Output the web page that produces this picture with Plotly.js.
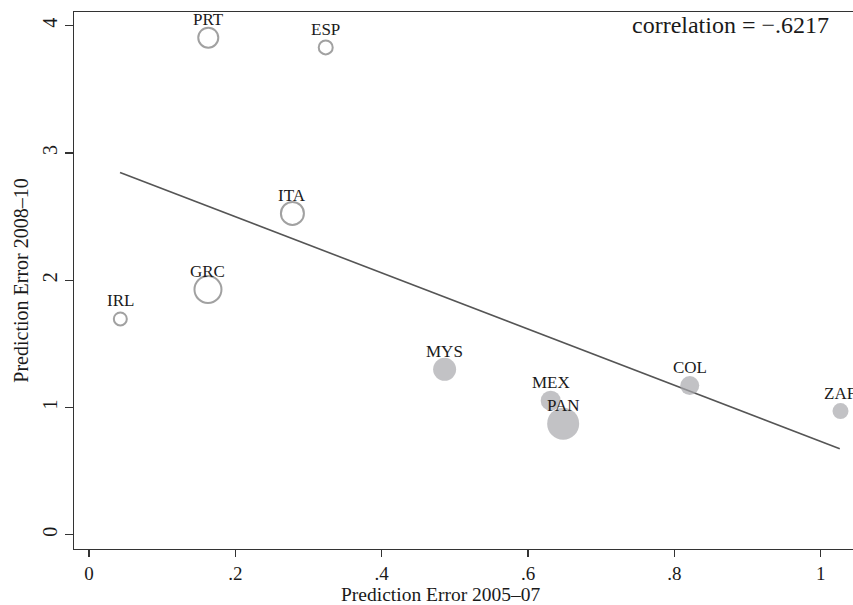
<!DOCTYPE html>
<html>
<head>
<meta charset="utf-8">
<script src="https://cdn.plot.ly/plotly-3.0.1.min.js"></script>
<style>html,body{margin:0;padding:0;background:#fff;}#chart{width:853px;height:605px;}</style>
</head>
<body>
<div id="chart"></div>
<script>
// Advanced economies (hollow markers)
const advCountries = ["PRT", "ESP", "ITA", "GRC", "IRL"];
const advErr0507 = [0.163, 0.3235, 0.278, 0.1626, 0.0428];
const advErr0810 = [3.906, 3.83, 2.525, 1.927, 1.696];
const advWeight = [20, 14, 23, 27, 13];

// Emerging economies (filled markers)
const emgCountries = ["MYS", "MEX", "PAN", "COL", "ZAF"];
const emgErr0507 = [0.486, 0.631, 0.648, 0.821, 1.027];
const emgErr0810 = [1.30, 1.054, 0.873, 1.172, 0.972];
const emgWeight = [23, 20, 32, 19, 16];

// Fitted line endpoints
const fitX = [0.0424, 1.026];
const fitY = [2.847, 0.676];

const correlationText = "correlation = \u2212.6217";
const xTitle = "Prediction Error 2005\u201307";
const yTitle = "Prediction Error 2008\u201310";
const xTickVals = [0, 0.2, 0.4, 0.6, 0.8, 1];
const xTickText = ["0", ".2", ".4", ".6", ".8", "1"];
const yTickVals = [0, 1, 2, 3, 4];

const serif = "Liberation Serif, Times New Roman, serif";

const traces = [
  {
    x: fitX, y: fitY, mode: "lines", type: "scatter",
    line: {color: "#555555", width: 1.6},
    hoverinfo: "skip", showlegend: false
  },
  {
    x: advErr0507, y: advErr0810, mode: "markers", type: "scatter",
    marker: {size: advWeight, color: "rgba(255,255,255,0)", line: {color: "#7a7a7a", width: 2}},
    showlegend: false, cliponaxis: false
  },
  {
    x: emgErr0507, y: emgErr0810, mode: "markers", type: "scatter",
    marker: {size: emgWeight, color: "#a8a8ac", line: {width: 0}},
    showlegend: false, cliponaxis: false
  }
];

const annotations = [];
function addLabels(xs, ys, names) {
  for (let i = 0; i < names.length; i++) {
    annotations.push({
      x: xs[i], y: ys[i], xref: "x", yref: "y", text: names[i],
      showarrow: false, yshift: 18, xanchor: "center", yanchor: "middle",
      font: {family: serif, size: 17, color: "#1a1a1a"}
    });
  }
}
addLabels(advErr0507, advErr0810, advCountries);
addLabels(emgErr0507, emgErr0810, emgCountries);
annotations.push({
  xref: "paper", yref: "paper", x: 0.9717, y: 0.975, xanchor: "right", yanchor: "middle",
  text: correlationText, showarrow: false,
  font: {family: serif, size: 24, color: "#1a1a1a"}
});
annotations.push({
  xref: "paper", yref: "paper", x: 0.471, y: -0.1053, xanchor: "center", yanchor: "bottom",
  text: xTitle, showarrow: false, borderpad: 0,
  font: {family: serif, size: 19.5, color: "#1a1a1a"}
});

const layout = {
  width: 853, height: 605,
  margin: {l: 74, r: 0, t: 12, b: 56},
  paper_bgcolor: "#ffffff", plot_bgcolor: "#ffffff",
  font: {family: serif, size: 20, color: "#1a1a1a"},
  xaxis: {
    range: [-0.0205, 1.0441], tickvals: xTickVals, ticktext: xTickText,
    showgrid: false, zeroline: false, showline: true, mirror: true,
    linecolor: "#333333", linewidth: 1.4,
    ticks: "outside", ticklen: 7, tickwidth: 1.2, tickcolor: "#333333",
    tickfont: {family: serif, size: 19, color: "#1a1a1a"}
  },
  yaxis: {
    range: [-0.112, 4.108], tickvals: yTickVals,
    showgrid: false, zeroline: false, showline: true, mirror: false,
    linecolor: "#333333", linewidth: 1.4,
    ticks: "outside", ticklen: 8, tickwidth: 1.2, tickcolor: "#333333",
    tickangle: -90,
    tickfont: {family: serif, size: 20, color: "#1a1a1a"},
    title: {text: yTitle, font: {family: serif, size: 20, color: "#1a1a1a"}, standoff: 4}
  },
  annotations: annotations
};

Plotly.newPlot("chart", traces, layout, {displayModeBar: false, staticPlot: true});
</script>
</body>
</html>
